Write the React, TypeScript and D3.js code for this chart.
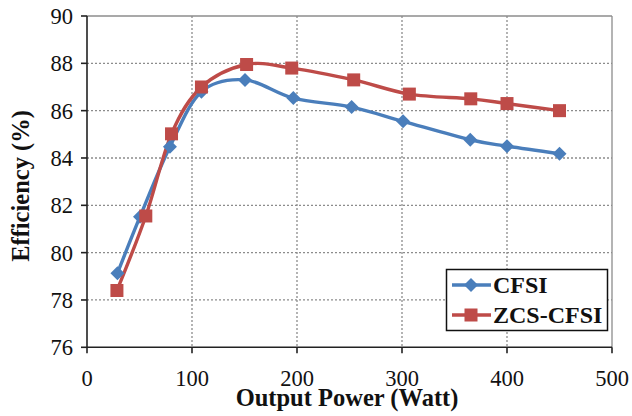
import React from "react";
import * as d3 from "d3";

const powerCFSI = [29, 50.5, 79, 109, 150.5, 196.5, 252, 301, 365, 400, 450];
const effCFSI = [79.13, 81.52, 84.48, 86.8, 87.3, 86.53, 86.15, 85.55, 84.77, 84.5, 84.18];
const powerZCS = [28.5, 56, 80.5, 109, 152, 195, 254, 307, 365.5, 400, 450];
const effZCS = [78.4, 81.55, 85.02, 87.0, 87.95, 87.8, 87.3, 86.7, 86.5, 86.3, 86.0];
const xTicks = [0, 100, 200, 300, 400, 500];
const yTicks = [76, 78, 80, 82, 84, 86, 88, 90];
const seriesNames = ["CFSI", "ZCS-CFSI"];

const W = 632, H = 416;
const left = 87, right = 612, top = 16, bottom = 347.3;
const BLUE = "#4A7EBB";
const RED = "#BE4B48";
const FONT = "'Liberation Serif', 'Times New Roman', serif";

export default function App() {
  const x = d3.scaleLinear().domain([0, 500]).range([left, right]);
  const y = d3.scaleLinear().domain([76, 90]).range([bottom, top]);
  const line = d3
    .line<[number, number]>()
    .x((d) => x(d[0]))
    .y((d) => y(d[1]))
    .curve(d3.curveCatmullRom.alpha(0));
  const blue: [number, number][] = powerCFSI.map((p, i) => [p, effCFSI[i]]);
  const red: [number, number][] = powerZCS.map((p, i) => [p, effZCS[i]]);
  const dia = (cx: number, cy: number, r: number) =>
    `M${cx},${cy - r}L${cx + r},${cy}L${cx},${cy + r}L${cx - r},${cy}Z`;

  return (
    <svg width={W} height={H} style={{ position: "absolute", left: 0, top: 0, background: "#fff" }}>
      <rect x={0} y={0} width={W} height={H} fill="#fff" />
      {/* gridlines */}
      {yTicks.filter((t) => t !== 76).map((t) => (
        <line key={"gy" + t} x1={left} x2={right} y1={y(t)} y2={y(t)} stroke="#8c8c8c" strokeWidth={1.3}
          strokeDasharray={t === 90 ? undefined : "2,2"} />
      ))}
      {xTicks.filter((t) => t !== 0).map((t) => (
        <line key={"gx" + t} x1={x(t)} x2={x(t)} y1={top} y2={bottom} stroke="#8c8c8c" strokeWidth={1.3}
          strokeDasharray={t === 500 ? undefined : "2,2"} />
      ))}
      {/* axes */}
      <line x1={left} x2={left} y1={top} y2={bottom} stroke="#222" strokeWidth={1.6} />
      <line x1={left} x2={right} y1={bottom} y2={bottom} stroke="#222" strokeWidth={1.6} />
      {yTicks.map((t) => (
        <g key={"ty" + t}>
          <line x1={left - 6} x2={left} y1={y(t)} y2={y(t)} stroke="#222" strokeWidth={1.6} />
          <text x={73} y={y(t)} dy="0.35em" textAnchor="end" fontFamily={FONT} fontSize={22.5} fill="#111">{t}</text>
        </g>
      ))}
      {xTicks.map((t) => (
        <g key={"tx" + t}>
          <line x1={x(t)} x2={x(t)} y1={bottom} y2={bottom + 6} stroke="#222" strokeWidth={1.6} />
          <text x={x(t)} y={386} textAnchor="middle" fontFamily={FONT} fontSize={22.5} fill="#111">{t}</text>
        </g>
      ))}
      {/* titles */}
      <text x={347} y={406} textAnchor="middle" fontFamily={FONT} fontSize={24.5} fontWeight="bold" fill="#111">
        Output Power (Watt)
      </text>
      <text transform={`translate(29,186) rotate(-90)`} textAnchor="middle" fontFamily={FONT}
        fontSize={24.5} fontWeight="bold" fill="#111">
        Efficiency (%)
      </text>
      {/* series */}
      <path d={line(blue) || ""} fill="none" stroke={BLUE} strokeWidth={3.4} />
      <path d={line(red) || ""} fill="none" stroke={RED} strokeWidth={3.4} />
      {blue.map((d, i) => (
        <path key={"b" + i} d={dia(x(d[0]), y(d[1]), 7)} fill={BLUE} />
      ))}
      {red.map((d, i) => (
        <rect key={"r" + i} x={x(d[0]) - 6.5} y={y(d[1]) - 6.5} width={13} height={13} fill={RED} />
      ))}
      {/* legend */}
      <rect x={446.5} y={269.5} width={161} height={61} fill="#fff" stroke="#111" strokeWidth={1.5} />
      <line x1={452} x2={491} y1={285} y2={285} stroke={BLUE} strokeWidth={3.4} />
      <path d={dia(471, 285, 7)} fill={BLUE} />
      <text x={493} y={285} dy="0.35em" fontFamily={FONT} fontSize={24} fontWeight="bold" fill="#111">{seriesNames[0]}</text>
      <line x1={452} x2={491} y1={315} y2={315} stroke={RED} strokeWidth={3.4} />
      <rect x={464.5} y={308.5} width={13} height={13} fill={RED} />
      <text x={493} y={315} dy="0.35em" fontFamily={FONT} fontSize={24} fontWeight="bold" fill="#111">{seriesNames[1]}</text>
    </svg>
  );
}
